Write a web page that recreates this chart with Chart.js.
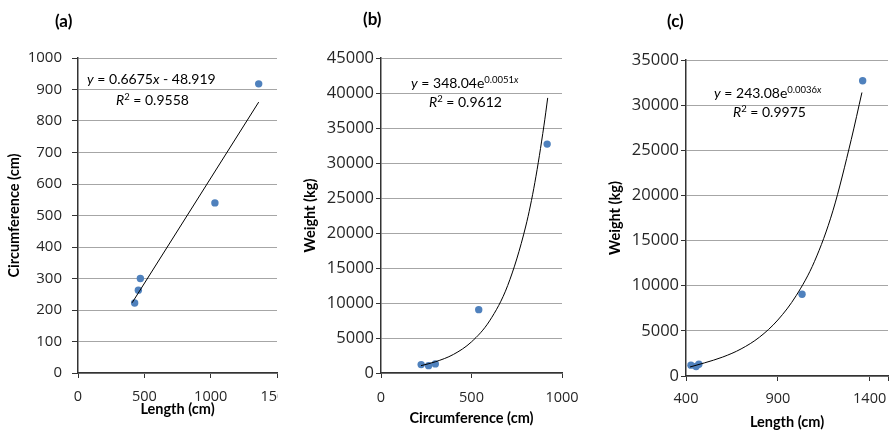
<!DOCTYPE html>
<html lang="en">
<head>
<meta charset="UTF-8">
<title>Length, circumference and weight</title>
<script src="https://cdn.jsdelivr.net/npm/chart.js"></script>
<style>
  body { margin: 0; width: 889px; height: 430px; overflow: hidden; background: white; position: relative; font-family: Lato, sans-serif; color: #000; }
  .wrap { position: absolute; top: 0; overflow: hidden; }
  .tag { position: absolute; font-weight: bold; font-size: 17px; line-height: 17px; }
  .eq { position: absolute; font-size: 14px; line-height: 14px; white-space: nowrap; }
  .eq sup { font-size: 9.5px; vertical-align: 5px; line-height: 0; }
</style>
</head>
<body>

<div class="wrap" style="left:0; width:278px; height:430px;"><canvas id="chart-a" width="310" height="430"></canvas></div>
<div class="wrap" style="left:290px; width:310px; height:430px;"><canvas id="chart-b" width="310" height="430"></canvas></div>
<div class="wrap" style="left:590px; width:299px; height:430px;"><canvas id="chart-c" width="310" height="436"></canvas></div>

<div class="tag" style="left:55px; top:12px;">(a)</div>
<div class="tag" style="left:363px; top:10px;">(b)</div>
<div class="tag" style="left:667px; top:12px;">(c)</div>

<div class="eq" style="left:87px; top:72px;"><i>y</i> = 0.6675<i>x</i> - 48.919</div>
<div class="eq" style="left:116px; top:93px;"><i>R</i><sup>2</sup> = 0.9558</div>
<div class="eq" style="left:411px; top:76px;"><i>y</i> = 348.04e<sup>0.0051<i>x</i></sup></div>
<div class="eq" style="left:429px; top:95px;"><i>R</i><sup>2</sup> = 0.9612</div>
<div class="eq" style="left:714px; top:86px;"><i>y</i> = 243.08e<sup>0.0036<i>x</i></sup></div>
<div class="eq" style="left:733px; top:105px;"><i>R</i><sup>2</sup> = 0.9975</div>

<script>
// measured specimens
const lengthCm = [427, 455, 470, 1032, 1362];
const circumferenceCm = [222, 263, 300, 540, 918];
const weightKg = [1200, 1050, 1300, 9050, 32700];

// trendlines
const fitA_x = [408, 1362];
const fitA_y = [223, 860];
const fitB_x = [221, 300, 400, 500, 600, 700, 800, 850, 900, 921];
const fitB_y = [1050, 1600, 2650, 4450, 7450, 12500, 21000, 27200, 35300, 39300];
const fitC_x = [422, 500, 600, 700, 800, 900, 1000, 1100, 1200, 1300, 1358];
const fitC_y = [1000, 1450, 2100, 3000, 4300, 6200, 8900, 12700, 18300, 26200, 31400];

// axis ticks
const ticksA_x = [0, 500, 1000, 1500];
const ticksA_y = [0, 100, 200, 300, 400, 500, 600, 700, 800, 900, 1000];
const ticksB_x = [0, 500, 1000];
const ticksB_y = [0, 5000, 10000, 15000, 20000, 25000, 30000, 35000, 40000, 45000];
const ticksC_x = [400, 900, 1400, 1500];
const ticksC_y = [0, 5000, 10000, 15000, 20000, 25000, 30000, 35000];
const unlabelledC_x = [1500];

Chart.defaults.font.family = 'Lato, sans-serif';
Chart.defaults.color = '#262626';

function pairs(xs, ys) { return xs.map((x, i) => ({ x: x, y: ys[i] })); }

function makeChart(id, c) {
  const axisDark = '#333';
  const tickFont = 'Open Sans, sans-serif';
  return new Chart(document.getElementById(id), {
    type: 'scatter',
    data: {
      datasets: [
        { data: pairs(c.fitX, c.fitY), showLine: true, borderColor: '#000', borderWidth: 1, pointRadius: 0, fill: false,
          cubicInterpolationMode: c.curved ? 'monotone' : 'default', order: 0 },
        { data: pairs(c.px, c.py), backgroundColor: '#4F81BD', borderWidth: 0, pointRadius: 3.7, order: 1 }
      ]
    },
    options: {
      responsive: false, animation: false, devicePixelRatio: 1,
      layout: { padding: c.pad },
      plugins: { legend: { display: false }, tooltip: { enabled: false } },
      scales: {
        x: {
          type: 'linear', min: c.xTicks[0], max: c.xTicks[c.xTicks.length - 1],
          afterBuildTicks: s => { s.ticks = c.xTicks.map(v => ({ value: v })); },
          afterFit: s => { s.height = c.xHeight; },
          grid: { drawOnChartArea: false, drawTicks: true, tickLength: 5, tickColor: axisDark },
          border: { color: axisDark, width: 1.5 },
          ticks: { font: { family: tickFont, size: 14.5 }, color: '#262626', padding: c.xTickPad, maxRotation: 0, autoSkip: false,
                   callback: v => (c.xHidden || []).includes(v) ? '' : String(v) },
          title: { display: true, text: c.xTitle, color: '#000', font: { size: 14.5, weight: 'bold' }, padding: { top: 0, bottom: c.xTitlePad } }
        },
        y: {
          type: 'linear', min: c.yTicks[0], max: c.yTicks[c.yTicks.length - 1],
          afterBuildTicks: s => { s.ticks = c.yTicks.map(v => ({ value: v })); },
          afterFit: s => { s.width = c.yWidth; },
          grid: { color: '#a6a6a6', lineWidth: 1, drawTicks: true, tickLength: c.yTickLen, tickColor: axisDark },
          border: { color: axisDark, width: 1.5 },
          ticks: { font: { family: tickFont, size: c.yFont }, color: '#262626', padding: c.yTickPad, autoSkip: false, callback: v => String(v) },
          title: { display: true, text: c.yTitle, color: '#000', font: { size: 14.5, weight: 'bold' }, padding: { top: c.yTitlePad, bottom: 0 } }
        }
      }
    }
  });
}

// canvas a: 0..310, plot 78..277
makeChart('chart-a', {
  px: lengthCm, py: circumferenceCm, fitX: fitA_x, fitY: fitA_y, curved: false,
  xTicks: ticksA_x, yTicks: ticksA_y, xTitle: 'Length (cm)', yTitle: 'Circumference (cm)',
  pad: { left: 0, top: 58, right: 33, bottom: 0 }, yWidth: 78, xHeight: 57,
  yTickLen: 6, yTickPad: 10, yFont: 15, xTickPad: 10, xTitlePad: 12, yTitlePad: 6
});

// canvas b: 290..600, plot 381..562
makeChart('chart-b', {
  px: circumferenceCm, py: weightKg, fitX: fitB_x, fitY: fitB_y, curved: true,
  xTicks: ticksB_x, yTicks: ticksB_y, xTitle: 'Circumference (cm)', yTitle: 'Weight (kg)',
  pad: { left: 0, top: 58, right: 38, bottom: 0 }, yWidth: 91, xHeight: 57,
  yTickLen: 5, yTickPad: 2, yFont: 16.5, xTickPad: 11, xTitlePad: 2.6, yTitlePad: 11.5
});

// canvas c: 590..900 (clipped at 889), plot 686..888
makeChart('chart-c', {
  px: lengthCm, py: weightKg, fitX: fitC_x, fitY: fitC_y, curved: true,
  xTicks: ticksC_x, yTicks: ticksC_y, xHidden: unlabelledC_x, xTitle: 'Length (cm)', yTitle: 'Weight (kg)',
  pad: { left: 0, top: 60, right: 12, bottom: 0 }, yWidth: 96, xHeight: 60,
  yTickLen: 5, yTickPad: 2, yFont: 16.5, xTickPad: 9, xTitlePad: 5, yTitlePad: 16.5
});
</script>
</body>
</html>
